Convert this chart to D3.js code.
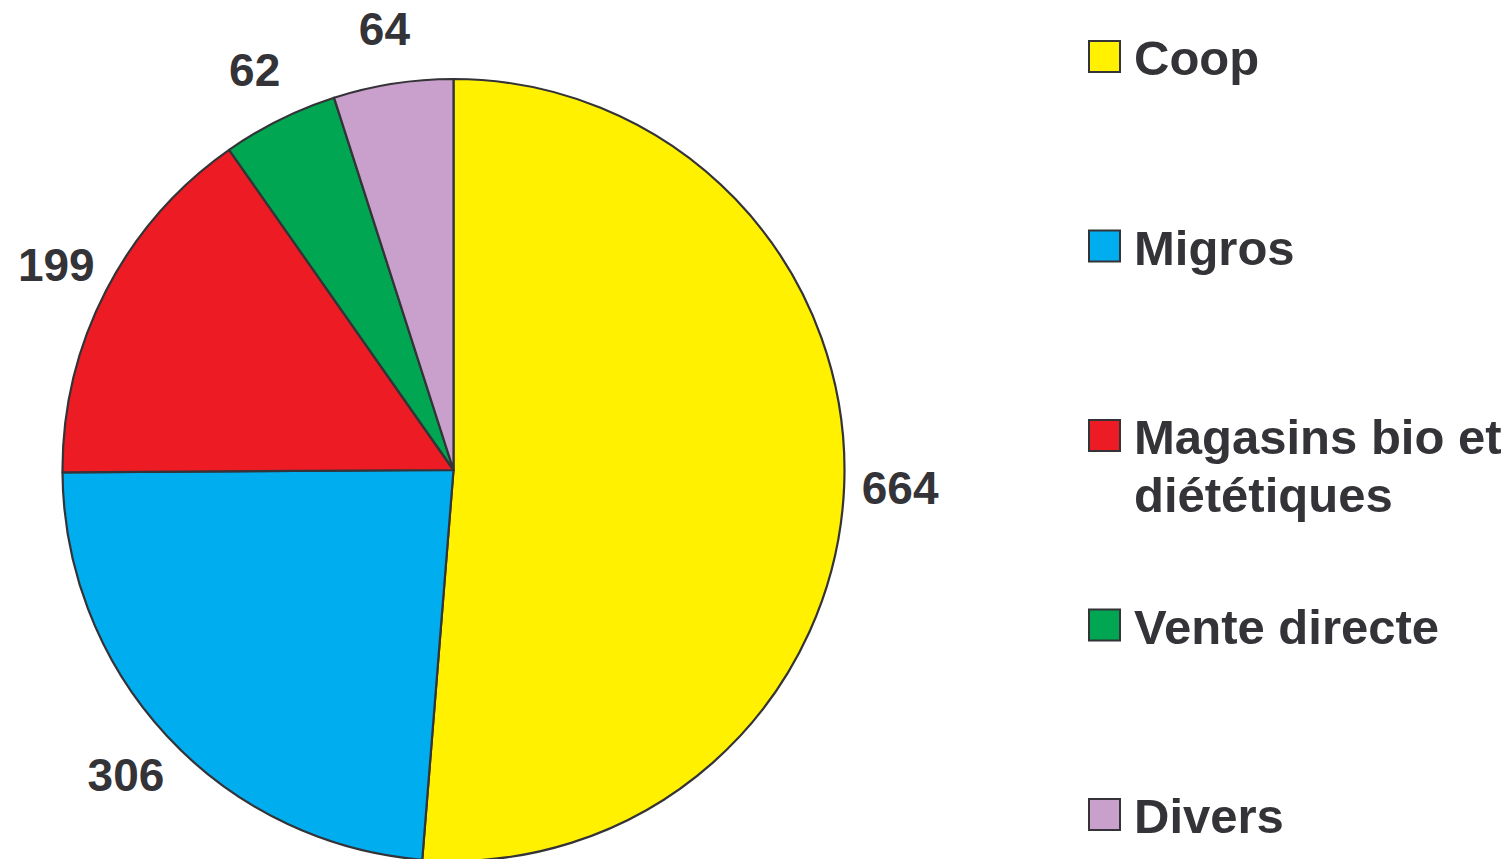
<!DOCTYPE html>
<html>
<head>
<meta charset="utf-8">
<script src="https://cdn.jsdelivr.net/npm/d3@7"></script>
<style>
  html, body { margin: 0; padding: 0; background: #fff; }
  svg text { font-family: "Liberation Sans", Arial, Helvetica, sans-serif; font-weight: bold; fill: #333338; }
</style>
</head>
<body>
<svg id="chart" width="1510" height="859"></svg>
<script>
var categories = ['Coop', 'Migros', 'Magasins bio et diététiques', 'Vente directe', 'Divers'];
var values = [664, 306, 199, 62, 64];
var legendLines = [['Coop'], ['Migros'], ['Magasins bio et', 'diététiques'], ['Vente directe'], ['Divers']];
var colors = ['#fff100', '#00aeef', '#ed1c24', '#00a651', '#c8a0cb'];

var svg = d3.select('#chart'),
	cx = 453.5, cy = 470, radius = 391, labelRadius = 447;

var data = categories.map(function(c, i) { return { name: c, value: values[i], color: colors[i] }; });

var pie = d3.pie().sort(null).value(function(d) { return d.value; });
var arc = d3.arc().innerRadius(0).outerRadius(radius);
var labelArc = d3.arc().innerRadius(labelRadius).outerRadius(labelRadius);

var g = svg.append('g').attr('transform', 'translate(' + cx + ',' + cy + ')');

var arcs = pie(data);

g.selectAll('path.slice')
	.data(arcs)
	.enter().append('path')
	.attr('class', 'slice')
	.attr('d', arc)
	.attr('fill', function(d) { return d.data.color; })
	.attr('stroke', '#333338')
	.attr('stroke-width', 2.2)
	.attr('stroke-linejoin', 'round');

g.selectAll('text.val')
	.data(arcs)
	.enter().append('text')
	.attr('class', 'val')
	.attr('transform', function(d) { return 'translate(' + labelArc.centroid(d) + ')'; })
	.attr('text-anchor', 'middle')
	.attr('dy', '0.36em')
	.style('font-size', '46px')
	.text(function(d) { return d.data.value; });

// legend
var legendY = d3.scalePoint().domain(categories).range([57, 815]);

var legend = svg.append('g').selectAll('g')
	.data(data)
	.enter().append('g')
	.attr('transform', function(d) { return 'translate(1088,' + legendY(d.name) + ')'; });

legend.append('rect')
	.attr('x', 1).attr('y', -16)
	.attr('width', 31).attr('height', 31)
	.attr('fill', function(d) { return d.color; })
	.attr('stroke', '#333338')
	.attr('stroke-width', 2);

legend.append('text')
	.attr('x', 46)
	.attr('y', 18)
	.style('font-size', '49px')
	.selectAll('tspan')
	.data(function(d, i) { return legendLines[i]; })
	.enter().append('tspan')
	.attr('x', 46)
	.attr('dy', function(d, i) { return i === 0 ? 0 : 58; })
	.text(function(d) { return d; });
</script>
</body>
</html>
